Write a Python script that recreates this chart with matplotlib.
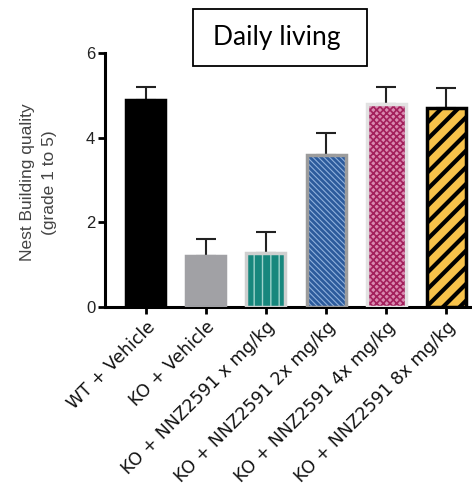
import matplotlib
matplotlib.use("Agg")
import matplotlib.pyplot as plt
from matplotlib.patches import Rectangle

categories = ["WT + Vehicle", "KO + Vehicle", "KO + NNZ2591 x mg/kg",
              "KO + NNZ2591 2x mg/kg", "KO + NNZ2591 4x mg/kg", "KO + NNZ2591 8x mg/kg"]
means = [4.9, 1.2, 1.28, 3.6, 4.8, 4.7]
errors = [0.3, 0.4, 0.5, 0.5, 0.4, 0.47]
yticks = [0, 2, 4, 6]

faces = ["black", "#a1a1a5", "#17877d", "#2c5b9c", "#d98ab0", "#f7c24a"]
hatches = [None, None, "||", "\\\\\\\\\\\\", "xxxxx", "//"]
hatch_colors = ["black", "#a1a1a5", "#9fd3cc", "#8fb0dc", "#a3205c", "black"]
borders = ["black", "#a1a1a5", "#cfcfcf", "#9c9c9c", "#e2e2e2", "black"]
hatch_lw = [1, 1, 1.0, 0.8, 1.2, 3.0]

fig = plt.figure(figsize=(4.72, 4.93), dpi=100)
ax = fig.add_axes([105/472, 1-307/493, 1-105/472, (307-53)/493])

x = list(range(len(categories)))
w = 0.65
for i in x:
    with plt.rc_context({"hatch.linewidth": hatch_lw[i]}):
        ax.bar(i, means[i], width=w, color=faces[i], hatch=hatches[i],
               edgecolor=hatch_colors[i], linewidth=0, zorder=2)
    ax.bar(i, means[i], width=w, fill=False, edgecolor=borders[i],
           linewidth=2.5, zorder=3)

ax.errorbar(x, means, yerr=[[0]*6, errors], fmt="none", ecolor="#222222",
            elinewidth=1.5, capsize=7, capthick=1.5, zorder=1)

ax.set_ylim(0, 6)
ax.set_xlim(-0.68, 5.43)
ax.set_yticks(yticks)
ax.set_xticks(x)
ax.set_xticklabels(categories, rotation=45, ha="right", rotation_mode="anchor",
                   fontsize=12.5, family="DejaVu Sans", color="#111111")
for lab in ax.get_yticklabels():
    lab.set_fontsize(12)
    lab.set_family("Liberation Sans")
    lab.set_color("#222222")
ax.spines["top"].set_visible(False)
ax.spines["right"].set_visible(False)
ax.spines["left"].set_linewidth(2.2)
ax.spines["bottom"].set_linewidth(2.2)
ax.tick_params(axis="both", length=5, width=2, direction="out")
ax.tick_params(axis="x", pad=3)
ax.tick_params(axis="y", pad=2)
ax.set_ylabel("Nest Building quality\n(grade 1 to 5)", fontsize=12.5,
              family="Liberation Sans", color="#444444", linespacing=1.55)
ax.yaxis.set_label_coords(-0.132, 0.49)

fig.patches.append(Rectangle((193/472, 1-66/493), 174/472, 57/493,
                             transform=fig.transFigure, fc="white", ec="black",
                             lw=1.3))
fig.text(277/472, 1-38/493, "Daily living", ha="center", va="center",
         fontsize=19, family="Lato")

fig.savefig("out.png", dpi=100)
